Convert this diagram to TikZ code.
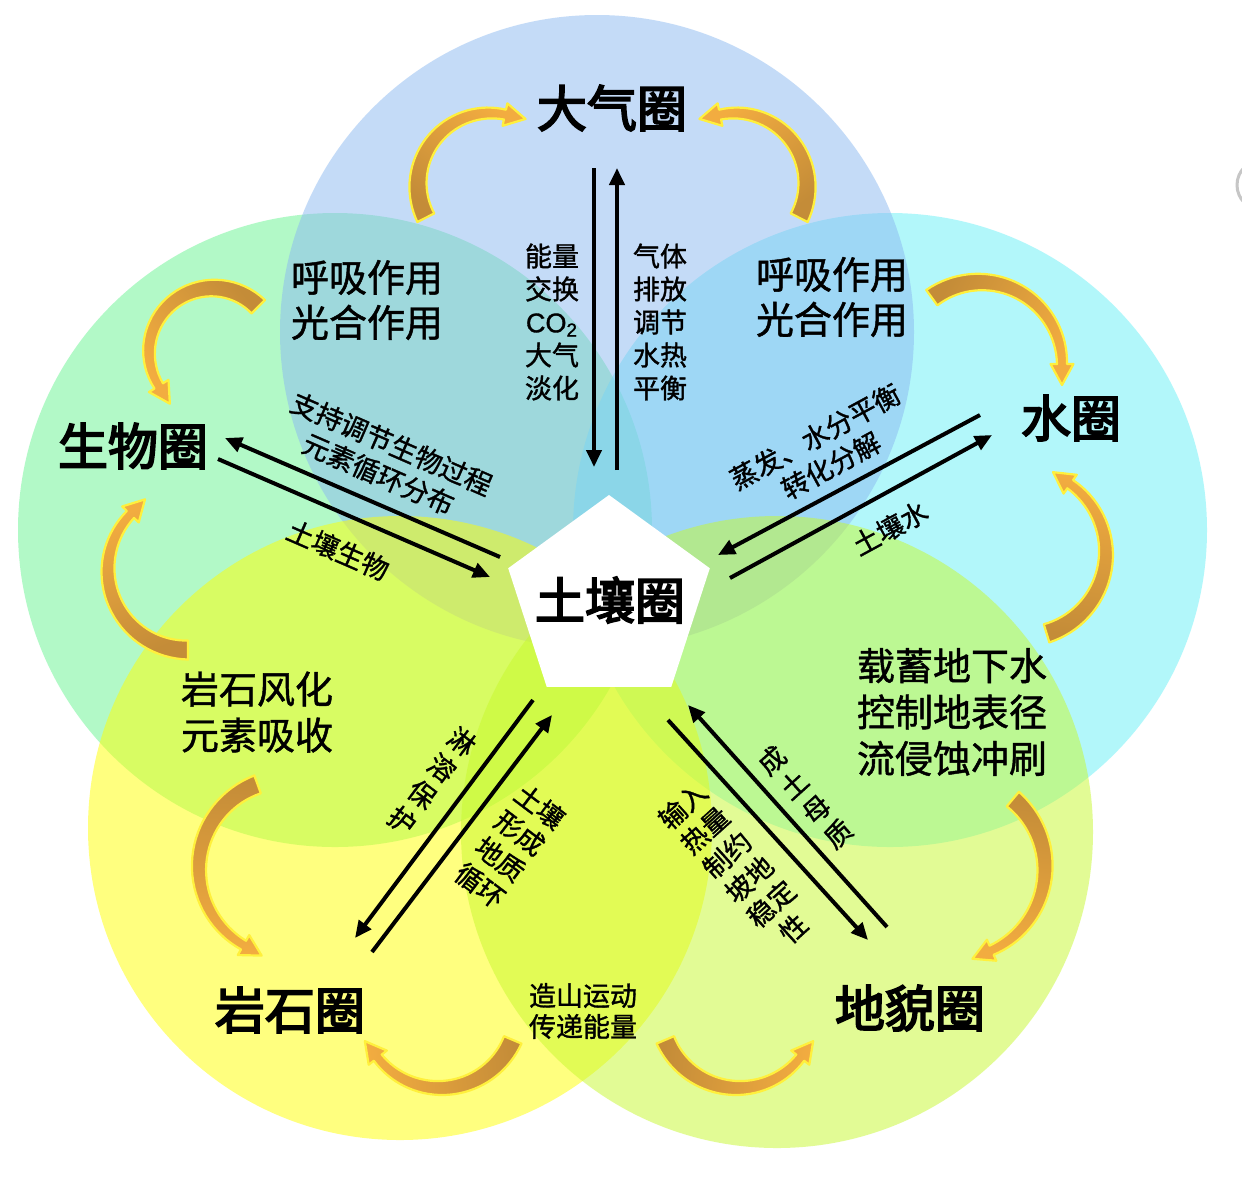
\documentclass[tikz,border=0pt]{standalone}
\usepackage{fontspec}
\newfontfamily\cjk[FakeBold=1.2]{Noto Sans CJK SC}
\newfontfamily\cjkbig[FakeBold=3.5]{Noto Sans CJK SC}
\newfontfamily\lat[FakeBold=1.2]{Liberation Sans}
\usetikzlibrary{arrows.meta,shapes.geometric,calc}
\definecolor{cTop}{RGB}{139,185,241}
\definecolor{cLeft}{RGB}{103,245,145}
\definecolor{cRight}{RGB}{103,241,247}
\definecolor{cBL}{RGB}{255,255,0}
\definecolor{cBR}{RGB}{199,249,45}
\definecolor{arTail}{RGB}{196,140,56}
\definecolor{arHead}{RGB}{242,172,64}
\definecolor{arLine}{RGB}{255,240,60}
\def\cWT{9.5}\def\cWH{5}\def\cWG{6.5}\def\cHL{21}
% curved block arrow: centre x, centre y, radius, tail angle, head angle (pixel frame, y down)
\newcommand\carrow[5]{%
  \pgfmathsetmacro\cSg{((#5)>(#4)) ? 1 : -1}%
  \pgfmathsetmacro\cHbx{#1+(#3)*cos(#5)}%
  \pgfmathsetmacro\cHby{#2+(#3)*sin(#5)}%
  \pgfmathsetmacro\cTx{#1+(#3)*cos(#4)}%
  \pgfmathsetmacro\cTy{#2+(#3)*sin(#4)}%
  \pgfmathsetmacro\cTax{-\cSg*sin(#5)}%
  \pgfmathsetmacro\cTay{\cSg*cos(#5)}%
  \pgfmathsetmacro\cTipx{\cHbx+\cHL*\cTax}%
  \pgfmathsetmacro\cTipy{\cHby+\cHL*\cTay}%
  \pgfmathsetmacro\cWox{#1+(#3+\cWH+\cWG)*cos(#5)}%
  \pgfmathsetmacro\cWoy{#2+(#3+\cWH+\cWG)*sin(#5)}%
  \pgfmathsetmacro\cWix{#1+(#3-\cWH-\cWG)*cos(#5)}%
  \pgfmathsetmacro\cWiy{#2+(#3-\cWH-\cWG)*sin(#5)}%
  \pgfmathsetmacro\cAng{atan2(\cTy-\cHby,\cHbx-\cTx)-90}%
  \shadedraw[curvarrow, shading angle=\cAng]
    plot[domain=#4:#5, samples=36]
      ({#1+(#3+\cWT+(\cWH-\cWT)*(\x-(#4))/((#5)-(#4)))*cos(\x)},
       {#2+(#3+\cWT+(\cWH-\cWT)*(\x-(#4))/((#5)-(#4)))*sin(\x)})
    -- (\cWox,\cWoy) -- (\cTipx,\cTipy) -- (\cWix,\cWiy)
    -- plot[domain=#5:#4, samples=36]
      ({#1+(#3-\cWT-(\cWH-\cWT)*(\x-(#4))/((#5)-(#4)))*cos(\x)},
       {#2+(#3-\cWT-(\cWH-\cWT)*(\x-(#4))/((#5)-(#4)))*sin(\x)})
    -- cycle;%
}
\begin{document}
\begin{tikzpicture}[x=0.5pt,y=-0.5pt,
  curvarrow/.style={top color=arHead, bottom color=arTail, draw=arLine, line width=1.1pt, line join=round},
  sphere/.style={fill opacity=0.5},
  big/.style={font=\cjkbig\fontsize{25}{30}\selectfont, inner sep=0pt},
  med/.style={font=\cjk\fontsize{19}{22.5}\selectfont, align=center, inner sep=0pt},
  sml/.style={font=\cjk\fontsize{13.5}{16.5}\selectfont, align=center, inner sep=0pt},
  blk/.style={line width=2pt, -{Triangle[length=8.5pt,width=7.5pt]}}]
\path[use as bounding box] (0,0) rectangle (1242,1191);
\clip (0,0) rectangle (1242,1191);
\fill[white] (0,0) rectangle (1242,1191);
% spheres
\fill[cLeft, sphere]  (335,530) circle[radius=317];
\fill[cRight, sphere] (890,530) circle[radius=317];
\fill[cTop, sphere]   (597,332) circle[radius=317];
\fill[cBL, sphere]    (400,828) circle[radius=312];
\fill[cBR, sphere]    (777,832) circle[radius=316];
% small grey fragment at right edge
\draw[gray!45, line width=1.5pt] (1262,185) circle[radius=25];
% centre pentagon
\node[regular polygon, regular polygon sides=5, minimum size=106pt, fill=white, inner sep=0pt] (soilbox) at (609,601) {};
\node[big] (soil) at (610,600) {土壤圈};
% sphere labels
\node[big] (atm) at (612,108) {大气圈};
\node[big] (bio) at (133,446) {生物圈};
\node[big] (hyd) at (1071,418) {水圈};
\node[big] (lit) at (290,1010) {岩石圈};
\node[big] (geo) at (910,1008) {地貌圈};
% curved block arrows
\carrow{490}{185}{72}{153}{282}
\carrow{735}{185}{72}{27}{-102}
\carrow{213}{352}{64}{-45}{-212}
\carrow{188}{570}{80}{90}{224}
\carrow{980}{364}{82}{-126}{0}
\carrow{1022}{553}{84}{73}{-55}
\carrow{288}{868}{89}{250}{120}
\carrow{955}{868}{90}{-50}{66}
\carrow{440}{1009}{79}{23}{142}
\carrow{738}{1009}{79}{157}{38}
% straight arrow end points
\coordinate (p1a) at (594,168); \coordinate (p1b) at (594,467);
\coordinate (p2a) at (617,470); \coordinate (p2b) at (617,168);
\coordinate (p3a) at (500,557); \coordinate (p3b) at (225,438);
\coordinate (p4a) at (218,459); \coordinate (p4b) at (490,577);
\coordinate (p5a) at (980,415); \coordinate (p5b) at (718,555);
\coordinate (p6a) at (730,578); \coordinate (p6b) at (992,435);
\coordinate (p7a) at (533,700); \coordinate (p7b) at (355,938);
\coordinate (p8a) at (372,952); \coordinate (p8b) at (552,715);
\coordinate (p9a) at (668,720); \coordinate (p9b) at (868,940);
\coordinate (p10a) at (887,927); \coordinate (p10b) at (688,705);
\draw[blk] (p1a) -- (p1b);
\draw[blk] (p2a) -- (p2b);
\draw[blk] (p3a) -- (p3b);
\draw[blk] (p4a) -- (p4b);
\draw[blk] (p5a) -- (p5b);
\draw[blk] (p6a) -- (p6b);
\draw[blk] (p7a) -- (p7b);
\draw[blk] (p8a) -- (p8b);
\draw[blk] (p9a) -- (p9b);
\draw[blk] (p10a) -- (p10b);
% texts
\node[med] (m1) at (367,300) {呼吸作用\\光合作用};
\node[med] (m2) at (832,297) {呼吸作用\\光合作用};
\node[med, font=\cjk\fontsize{19}{23.2}\selectfont] (m3) at (952,712) {载蓄地下水\\控制地表径\\流侵蚀冲刷};
\node[med, font=\cjk\fontsize{19}{23}\selectfont] (m4) at (257,712) {岩石风化\\元素吸收};
\node[sml] (s1) at (552,322) {能量\\交换\\{\lat CO\textsubscript{2}}\\大气\\淡化};
\node[sml] (s2) at (660,322) {气体\\排放\\调节\\水热\\平衡};
\node[sml, font=\cjk\fontsize{13.5}{15.5}\selectfont] (s3) at (583,1011) {造山运动\\传递能量};
\node[sml, rotate=-23.5] (r1) at (385,459) {支持调节生物过程\\元素循环分布};
\node[sml, rotate=-23.5] (r2) at (338,550) {土壤生物};
\node[sml, rotate=28.5] (r3) at (823,451) {蒸发、水分平衡\\转化分解};
\node[sml, rotate=28.5] (r4) at (890,528) {土壤水};
\node[sml, rotate=-37] (r5) at (432,781) {淋\\溶\\保\\护};
\node[sml, rotate=-37] (r6) at (510,846) {土壤\\形成\\地质\\循环};
\node[sml, rotate=42] (r7) at (738,867) {输入\\热量\\制约\\坡地\\稳定\\性};
\node[sml, rotate=42] (r8) at (805,797) {成\\土\\母\\质};
\end{tikzpicture}
\end{document}
